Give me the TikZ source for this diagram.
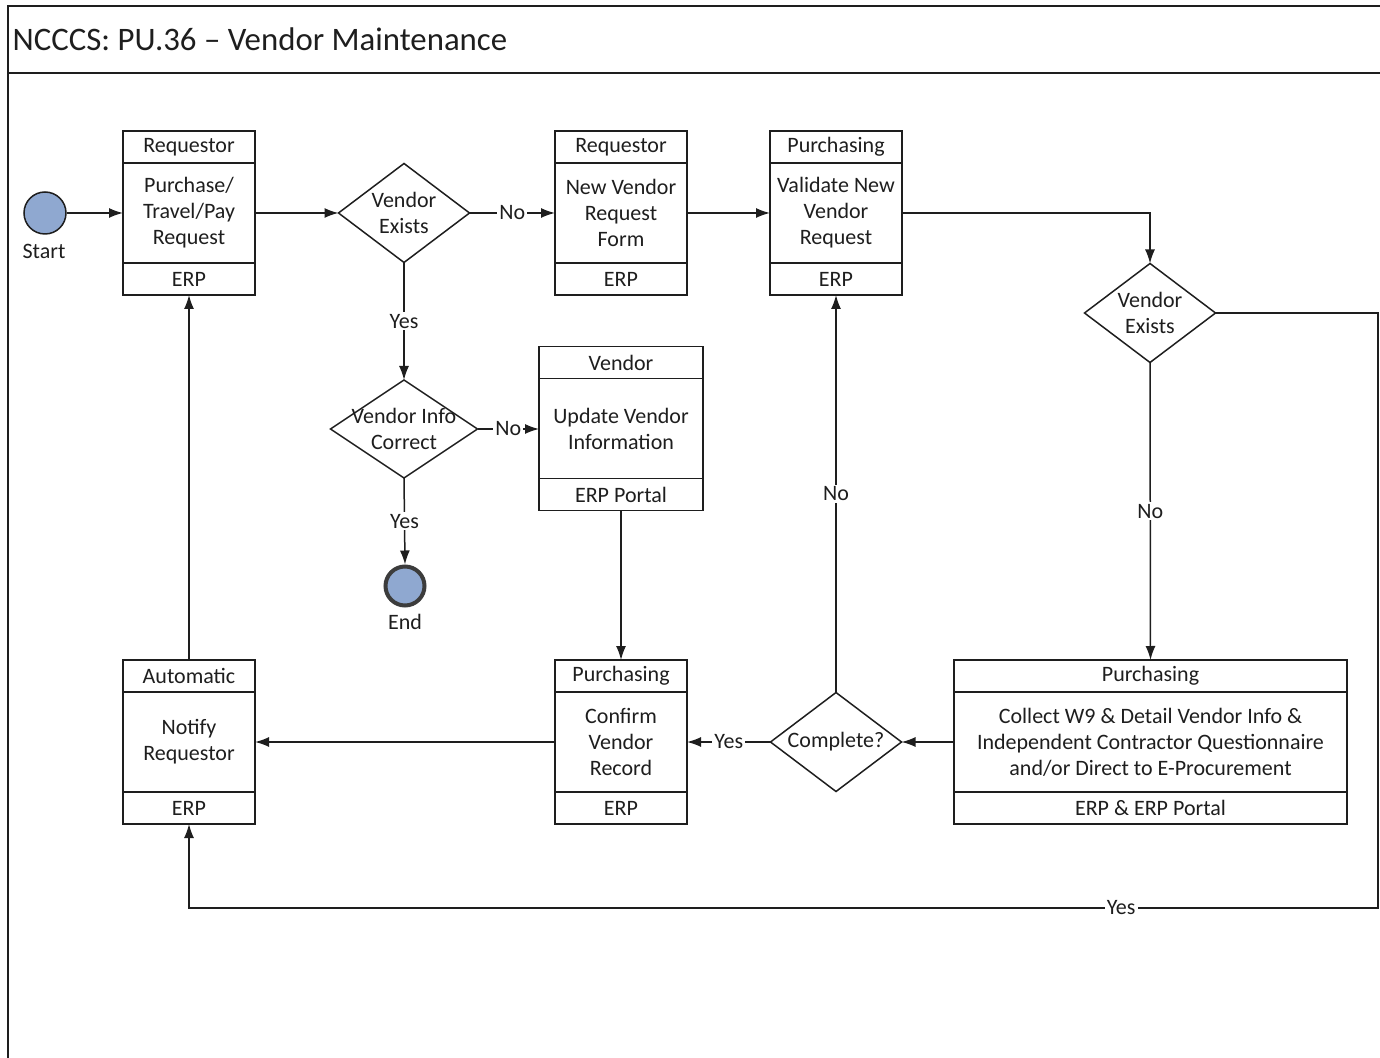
\documentclass[tikz,border=0pt]{standalone}
\usepackage{fontspec}
\setmainfont{Carlito}
\usetikzlibrary{shapes.geometric,positioning,arrows.meta}

\definecolor{ink}{RGB}{30,30,30}
\definecolor{eventblue}{RGB}{143,168,208}
\definecolor{endrim}{RGB}{60,60,60}

\begin{document}
\begin{tikzpicture}[x = 0.5pt, y = -0.5pt, line width = 0.75pt, color = ink,
                    font = \fontsize{11pt}{13pt}\selectfont,
                    rolebox/.style = {draw, minimum width = #1, minimum height = 16pt, inner sep = 0pt, outer sep = 0pt},
                    rolebox/.default = 66pt,
                    taskbox/.style = {draw, minimum width = #1, minimum height = 50pt, inner sep = 0pt, outer sep = 0pt, align = center},
                    taskbox/.default = 66pt,
                    sysbox/.style = {draw, minimum width = #1, minimum height = 16pt, inner sep = 0pt, outer sep = 0pt},
                    sysbox/.default = 66pt,
                    decision/.style = {diamond, draw, minimum width = 65.5pt, minimum height = 49.5pt, inner sep = 0pt, outer sep = 0pt},
                    event/.style = {circle, draw, fill = eventblue, minimum size = 21pt, inner sep = 0pt},
                    endevent/.style = {circle, draw = endrim, line width = 2pt, fill = eventblue, minimum size = 19.5pt, inner sep = 0pt},
                    flow/.style = {-{Latex[length = 7pt, width = 5pt]}},
                    lbl/.style = {fill = white, inner sep = 1pt}]

\useasboundingbox (0,0) rectangle (1380,1058);

% frame and title
\draw[line width = 1.2pt] (8,1062) -- (8,6) -- (1384,6);
\draw[line width = 0.9pt] (8,73) -- (1384,73);
\node[anchor = west, inner sep = 0pt, font = \fontsize{16.4pt}{19pt}\selectfont] (title) at (12,39) {NCCCS: PU.36 -- Vendor Maintenance};

% start and end
\node [event] (start) at (45,213) {};
\node (startlbl) at (44,251) {Start};
\node [endevent] (end) at (405,586) {};
\node (endlbl) at (405,622) {End};

% top row
\node [rolebox] (b1h) at (189,147) {Requestor};
\node [taskbox, below = 0pt of b1h] (b1) {Purchase/\\Travel/Pay\\Request};
\node [sysbox, below = 0pt of b1] (b1f) {ERP};

\node [rolebox] (b2h) at (621,147) {Requestor};
\node [taskbox, below = 0pt of b2h] (b2) {New Vendor\\Request\\Form};
\node [sysbox, below = 0pt of b2] (b2f) {ERP};

\node [rolebox] (b3h) at (836,147) {Purchasing};
\node [taskbox, below = 0pt of b3h] (b3) {Validate New\\Vendor\\Request};
\node [sysbox, below = 0pt of b3] (b3f) {ERP};

% vendor update
\node [rolebox = 82pt] (b4h) at (621,362.5) {Vendor};
\node [taskbox = 82pt, below = 0pt of b4h] (b4) {Update Vendor\\Information};
\node [sysbox = 82pt, below = 0pt of b4] (b4f) {ERP Portal};

% bottom row
\node [rolebox] (b5h) at (189,676) {Automatic};
\node [taskbox, below = 0pt of b5h] (b5) {Notify\\Requestor};
\node [sysbox, below = 0pt of b5] (b5f) {ERP};

\node [rolebox] (b6h) at (621,676) {Purchasing};
\node [taskbox, below = 0pt of b6h] (b6) {Confirm\\Vendor\\Record};
\node [sysbox, below = 0pt of b6] (b6f) {ERP};

\node [rolebox = 196.5pt] (b7h) at (1150.5,676) {Purchasing};
\node [taskbox = 196.5pt, below = 0pt of b7h] (b7) {Collect W9 \& Detail Vendor Info \&\\Independent Contractor Questionnaire\\and/or Direct to E-Procurement};
\node [sysbox = 196.5pt, below = 0pt of b7] (b7f) {ERP \& ERP Portal};

% decisions
\node [decision] (d1) at (404,213) {};
\node [align = center] (d1t) at (d1) {Vendor\\Exists};
\node [decision] (d2) at (1150,313) {};
\node [align = center] (d2t) at (d2) {Vendor\\Exists};
\node [decision, minimum width = 73.5pt, minimum height = 49pt] (d3) at (404,429) {};
\node [align = center] (d3t) at (d3) {Vendor Info\\Correct};
\node [decision] (d4) at (836,742) {};
\node (d4t) at (d4) {Complete?};

\coordinate (loop) at (1378,908);

% flows
\draw[flow] (start) -- (b1);
\draw[flow] (b1) -- (d1);
\draw[flow] (d1.east) -- node[lbl] (no1) {No} (b2);
\draw[flow] (b2) -- (b3);
\draw[flow] (b3.east) -| (d2.north);
\draw[flow] (d2.south) -- node[lbl] (no2) {No} (b7h.north);
\draw[flow] (d2.east) -| (loop) -| node[lbl, pos = 0.108] (yes1) {Yes} (b5f.south);
\draw[flow] (d1.south) -- node[lbl] (yes2) {Yes} (d3.north);
\draw[flow] (d3.east) -- node[lbl] (no3) {No} (b4.west |- d3.east);
\draw[flow] (d3.south) -- node[lbl] (yes3) {Yes} (end.north);
\draw[flow] (b4f.south) -- (b6h.north);
\draw[flow] (b7.west) -- (d4.east);
\draw[flow] (d4.west) -- node[lbl] (yes4) {Yes} (b6.east);
\draw[flow] (d4.north) -- node[lbl] (no4) {No} (b3f.south);
\draw[flow] (b6.west) -- (b5.east);
\draw[flow] (b5h.north) -- (b1f.south);
\end{tikzpicture}
\end{document}
